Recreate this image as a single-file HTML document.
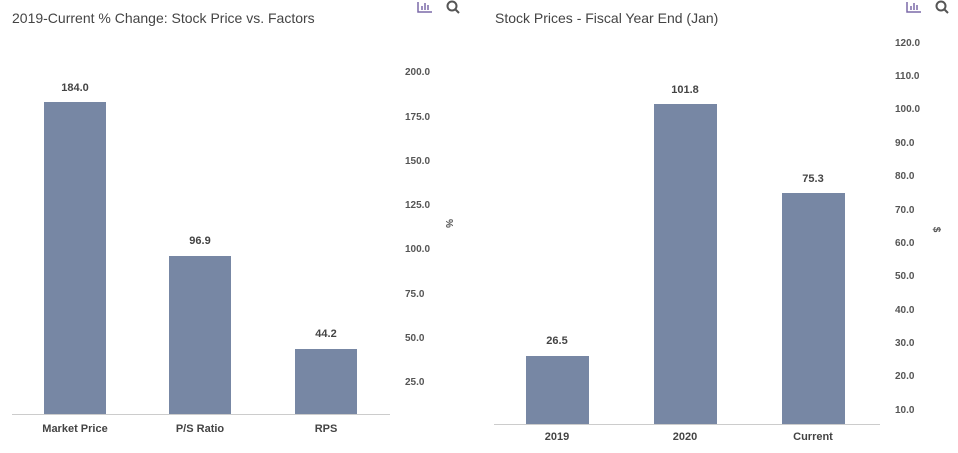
<!DOCTYPE html><html><head><style>
body{margin:0;width:958px;height:453px;background:#fff;font-family:"Liberation Sans",sans-serif;position:relative;overflow:hidden}
.a{position:absolute;white-space:nowrap}
.t{font-size:14px;color:#444}
.b{position:absolute;background:#7787a4}
.v{font-size:11px;font-weight:bold;color:#444;text-align:center;width:80px}
.x{font-size:11px;font-weight:bold;color:#444;text-align:center;width:100px}
.y{font-size:10px;font-weight:bold;color:#555}
</style></head><body>
<div class="a t" style="left:12px;top:10px">2019-Current % Change: Stock Price vs. Factors</div>
<div class="a t" style="left:495px;top:10px">Stock Prices - Fiscal Year End (Jan)</div>
<svg class="a" style="left:416px;top:0" width="50" height="16"><g stroke="#7c6aa8" fill="none" stroke-width="1.5"><path d="M2 2V12H16M6 10V6M9 10V3M12 10V5"/></g><circle cx="36" cy="6" r="4.5" stroke="#555" stroke-width="2" fill="none"/><path d="M39 9L43 13" stroke="#555" stroke-width="2"/></svg>
<svg class="a" style="left:905px;top:0" width="50" height="16"><g stroke="#7c6aa8" fill="none" stroke-width="1.5"><path d="M2 2V12H16M6 10V6M9 10V3M12 10V5"/></g><circle cx="36" cy="6" r="4.5" stroke="#555" stroke-width="2" fill="none"/><path d="M39 9L43 13" stroke="#555" stroke-width="2"/></svg>
<div class="a" style="left:12px;top:414px;width:378px;height:1px;background:#ccc"></div>
<div class="a" style="left:494px;top:424px;width:386px;height:1px;background:#ccc"></div>
<div class="b" style="left:44px;top:102px;width:62px;height:312px"></div>
<div class="b" style="left:169px;top:256px;width:62px;height:158px"></div>
<div class="b" style="left:295px;top:349px;width:62px;height:65px"></div>
<div class="a v" style="left:35px;top:82px">184.0</div>
<div class="a v" style="left:160px;top:235px">96.9</div>
<div class="a v" style="left:286px;top:328px">44.2</div>
<div class="a x" style="left:25px;top:423px">Market Price</div>
<div class="a x" style="left:150px;top:423px">P/S Ratio</div>
<div class="a x" style="left:276px;top:423px">RPS</div>
<div class="b" style="left:526px;top:356px;width:63px;height:68px"></div>
<div class="b" style="left:654px;top:104px;width:63px;height:320px"></div>
<div class="b" style="left:782px;top:193px;width:63px;height:231px"></div>
<div class="a v" style="left:517px;top:335px">26.5</div>
<div class="a v" style="left:645px;top:84px">101.8</div>
<div class="a v" style="left:773px;top:173px">75.3</div>
<div class="a x" style="left:507px;top:431px">2019</div>
<div class="a x" style="left:635px;top:431px">2020</div>
<div class="a x" style="left:763px;top:431px">Current</div>
<div class="a y" style="left:405px;top:67px">200.0</div>
<div class="a y" style="left:405px;top:112px">175.0</div>
<div class="a y" style="left:405px;top:156px">150.0</div>
<div class="a y" style="left:405px;top:200px">125.0</div>
<div class="a y" style="left:405px;top:244px">100.0</div>
<div class="a y" style="left:405px;top:289px">75.0</div>
<div class="a y" style="left:405px;top:333px">50.0</div>
<div class="a y" style="left:405px;top:377px">25.0</div>
<div class="a y" style="left:444px;top:218px;transform:rotate(90deg)">%</div>
<div class="a y" style="left:895px;top:38px">120.0</div>
<div class="a y" style="left:895px;top:71px">110.0</div>
<div class="a y" style="left:895px;top:104px">100.0</div>
<div class="a y" style="left:895px;top:138px">90.0</div>
<div class="a y" style="left:895px;top:171px">80.0</div>
<div class="a y" style="left:895px;top:205px">70.0</div>
<div class="a y" style="left:895px;top:238px">60.0</div>
<div class="a y" style="left:895px;top:271px">50.0</div>
<div class="a y" style="left:895px;top:305px">40.0</div>
<div class="a y" style="left:895px;top:338px">30.0</div>
<div class="a y" style="left:895px;top:371px">20.0</div>
<div class="a y" style="left:895px;top:405px">10.0</div>
<div class="a y" style="left:933px;top:224px;transform:rotate(90deg)">$</div>
</body></html>
